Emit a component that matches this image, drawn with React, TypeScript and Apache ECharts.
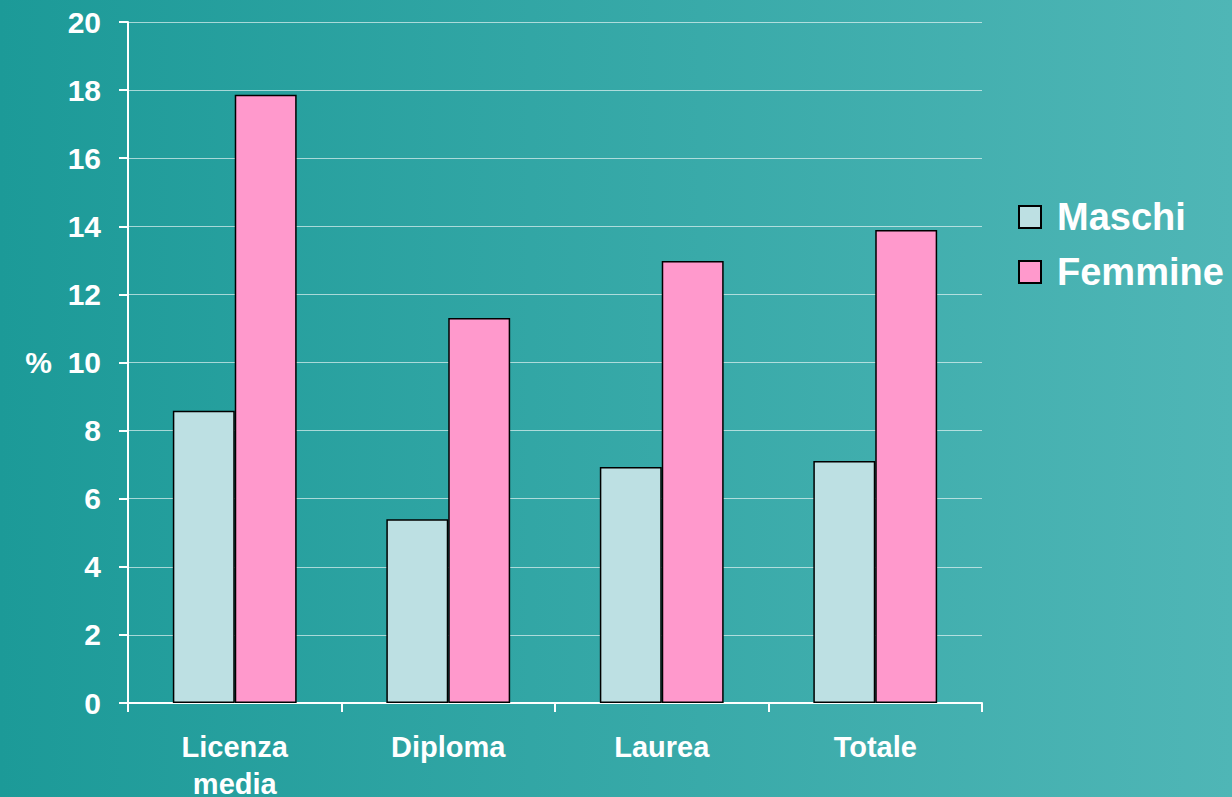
import React, { useEffect, useRef } from "react";
import * as echarts from "echarts";

const categories = ["Licenza\nmedia", "Diploma", "Laurea", "Totale"];
const maschi = [8.58, 5.4, 6.93, 7.11];
const femmine = [17.86, 11.31, 12.98, 13.89];
const seriesNames = ["Maschi", "Femmine"];

const FONT = "'Liberation Sans', Arial, sans-serif";

export default function App() {
  const ref = useRef<HTMLDivElement>(null);
  useEffect(() => {
    const chart = echarts.init(ref.current!, null, { renderer: "svg" });
    chart.setOption({
      animation: false,
      backgroundColor: new echarts.graphic.LinearGradient(0, 0, 1, 0, [
        { offset: 0, color: "#1c9a98" },
        { offset: 1, color: "#4fb6b6" },
      ]),
      grid: {
        left: 128,
        right: 250,
        top: 22,
        bottom: 94,
        containLabel: false,
        outerBoundsMode: "none",
      },
      legend: {
        orient: "vertical",
        left: 1018,
        top: 198,
        padding: 0,
        itemWidth: 22,
        itemHeight: 22,
        itemGap: 17,
        icon: "rect",
        textStyle: {
          color: "#ffffff",
          fontSize: 38,
          fontWeight: "bold",
          fontFamily: FONT,
          padding: [0, 0, 0, 11],
        },
        data: seriesNames,
      },
      xAxis: {
        type: "category",
        data: categories,
        axisLine: { lineStyle: { color: "#ffffff", width: 2 } },
        axisTick: { show: true, length: 9, lineStyle: { color: "#ffffff", width: 2 } },
        axisLabel: {
          color: "#ffffff",
          fontSize: 29,
          fontWeight: "bold",
          fontFamily: FONT,
          margin: 25,
          lineHeight: 37,
        },
      },
      yAxis: {
        type: "value",
        min: 0,
        max: 20,
        interval: 2,
        name: "%",
        nameLocation: "middle",
        nameRotate: 0,
        nameGap: 76,
        nameTextStyle: { color: "#ffffff", fontSize: 30, fontWeight: "bold", fontFamily: FONT },
        axisLine: { show: true, lineStyle: { color: "#ffffff", width: 2 } },
        axisTick: { show: true, length: 9, lineStyle: { color: "#ffffff", width: 2 } },
        axisLabel: {
          color: "#ffffff",
          fontSize: 30,
          fontWeight: "bold",
          fontFamily: FONT,
          margin: 27,
        },
        splitLine: { lineStyle: { color: "rgba(255,255,255,0.6)", width: 1 } },
      },
      series: [
        {
          name: seriesNames[0],
          type: "bar",
          data: maschi,
          barGap: "0%",
          barCategoryGap: "42%",
          itemStyle: { color: "#bde0e3", borderColor: "#000000", borderWidth: 1.5 },
        },
        {
          name: seriesNames[1],
          type: "bar",
          data: femmine,
          barGap: "0%",
          barCategoryGap: "42%",
          itemStyle: { color: "#ff99cc", borderColor: "#000000", borderWidth: 1.5 },
        },
      ],
    });
    return () => chart.dispose();
  }, []);
  return (
    <div
      ref={ref}
      style={{ position: "absolute", left: 0, top: 0, width: 1232, height: 797 }}
    />
  );
}
